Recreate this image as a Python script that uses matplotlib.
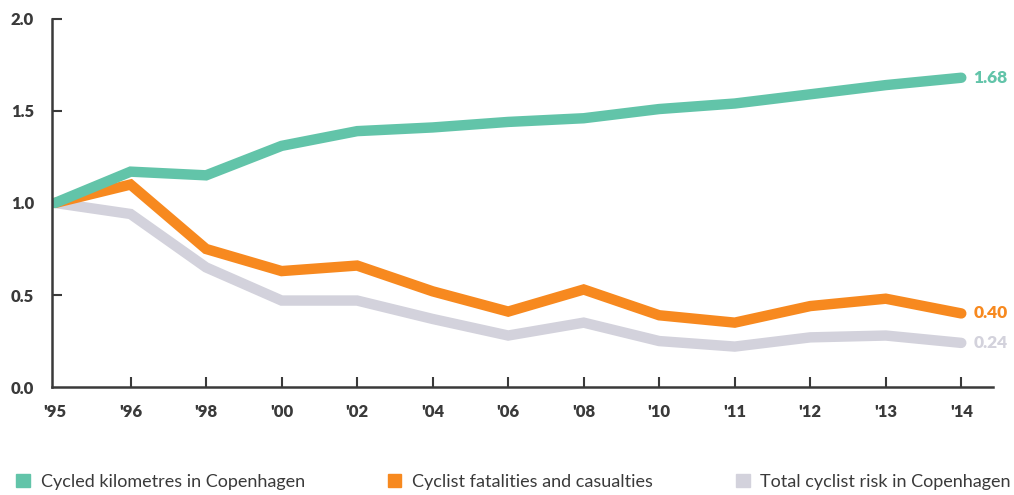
import matplotlib.pyplot as plt
from matplotlib.patches import Patch

years = ["'95", "'96", "'98", "'00", "'02", "'04", "'06", "'08", "'10", "'11", "'12", "'13", "'14"]
cycled_km = [1.00, 1.17, 1.15, 1.31, 1.39, 1.41, 1.44, 1.46, 1.51, 1.54, 1.59, 1.64, 1.68]
casualties = [1.00, 1.10, 0.75, 0.63, 0.66, 0.52, 0.41, 0.53, 0.39, 0.35, 0.44, 0.48, 0.40]
total_risk = [1.00, 0.94, 0.65, 0.47, 0.47, 0.37, 0.28, 0.35, 0.25, 0.22, 0.27, 0.28, 0.24]
labels = ['Cycled kilometres in Copenhagen', 'Cyclist fatalities and casualties',
          'Total cyclist risk in Copenhagen']
colors = ['#62C4A9', '#F7891F', '#D3D2DC']

plt.rcParams['font.family'] = ['Lato', 'DejaVu Sans']
dark = '#3a3a3a'

fig = plt.figure(figsize=(10.14, 4.95), dpi=100)
ax = fig.add_axes([0.0513, 0.218, 0.928, 0.744])

x = list(range(len(years)))
for series, c in zip([total_risk, casualties, cycled_km], colors[::-1]):
    ax.plot(x, series, color=c, linewidth=7.5, solid_capstyle='round', solid_joinstyle='miter')

for series, c in zip([cycled_km, casualties, total_risk], colors):
    ax.text(x[-1] + 0.16, series[-1], f'{series[-1]:.2f}', color=c, fontsize=12.5,
            fontweight='heavy', va='center', ha='left')

ax.set_xlim(-0.04, 12.42)
ax.set_ylim(0, 2.0)
ax.set_xticks(x)
ax.set_xticklabels(years, fontsize=12, fontweight='heavy', color=dark)
ax.set_yticks([0, 0.5, 1.0, 1.5, 2.0])
ax.set_yticklabels(['0.0', '0.5', '1.0', '1.5', '2.0'], fontsize=12, fontweight='heavy', color=dark)
ax.tick_params(axis='both', direction='in', length=7, width=1.5, color=dark)
ax.tick_params(axis='x', pad=12)
ax.tick_params(axis='y', pad=13)
ax.xaxis.get_major_ticks()[0].tick1line.set_visible(False)
ax.yaxis.get_major_ticks()[0].tick1line.set_visible(False)
for s in ['top', 'right']:
    ax.spines[s].set_visible(False)
for s in ['left', 'bottom']:
    ax.spines[s].set_color(dark)
    ax.spines[s].set_linewidth(1.8)

handles = [Patch(color=c) for c in colors]
fig.legend(handles, labels, loc='lower left', bbox_to_anchor=(0.0, -0.022), ncol=3,
           frameon=False, fontsize=13, handlelength=0.75, handleheight=0.75,
           handletextpad=0.6, columnspacing=4.6, labelcolor=dark)

fig.savefig('out.png', dpi=100)
